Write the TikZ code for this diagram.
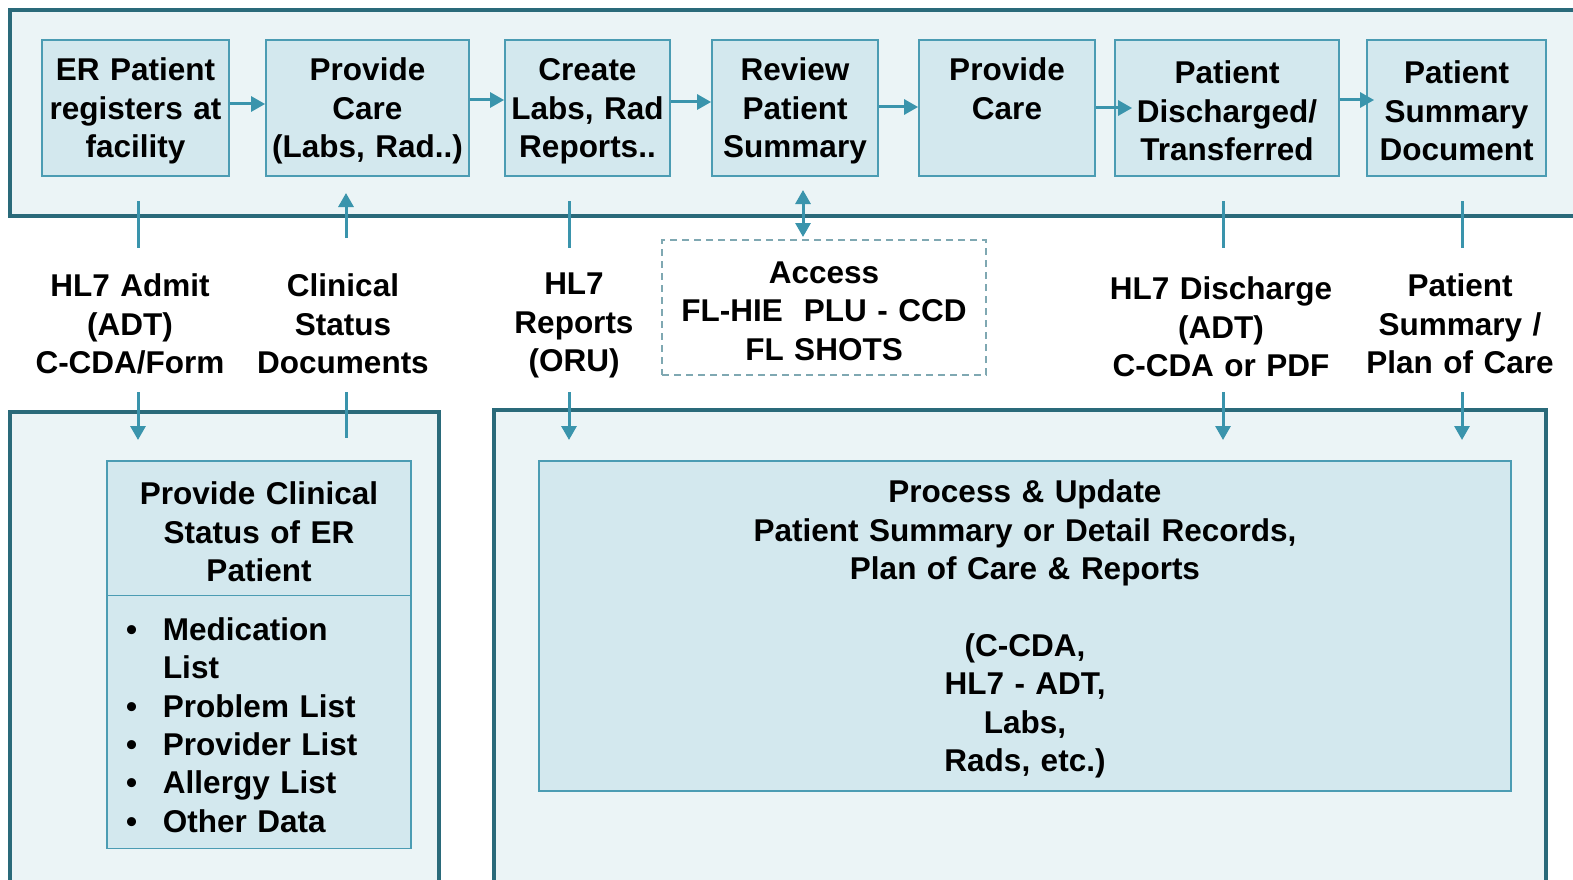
\documentclass[tikz,border=0pt]{standalone}
\usepackage{fontspec}
\setmainfont{Liberation Sans}
\usetikzlibrary{arrows.meta}
\definecolor{frame}{HTML}{2A6A7A}
\definecolor{pale}{HTML}{EBF4F6}
\definecolor{cell}{HTML}{D3E8EE}
\definecolor{cellline}{HTML}{4B9CB3}
\definecolor{pipe}{HTML}{3A94AC}
\definecolor{dashline}{HTML}{7FA8B2}
\newcommand\bul{\makebox[37pt][l]{\textbullet}}

\begin{document}
\begin{tikzpicture}
[
x=1pt, y=-1pt,
txt/.style={font=\fontsize{31.5}{38.4}\selectfont\bfseries, align=center, text width=240pt, inner sep=0pt, execute at begin node={\rule{0pt}{28.7pt}}},
lane/.style={draw=frame, line width=4.5pt, fill=pale},
stage/.style 2 args={txt, draw=cellline, line width=1.8pt, fill=cell, text width=#1pt, minimum width=#1pt, minimum height=#2pt},
flow/.style={draw=pipe, line width=3pt, -{Triangle[length=14pt,width=15pt]}},
both/.style={draw=pipe, line width=3pt, {Triangle[length=14pt,width=15pt]}-{Triangle[length=14pt,width=15pt]}},
link/.style={draw=pipe, line width=3pt},
]
\useasboundingbox (0,0) rectangle (1573,880);
\clip (0,0) rectangle (1573,880);

%Draw the lanes
\path[lane] (10,10) rectangle (1600,216);
\path[lane] (10,412) rectangle (439,900);
\path[lane] (494,410) rectangle (1546,900);

%Place the nodes
\node[stage={187}{136}] (er) at (135.5,108) {ER Patient\\registers at\\facility};
\node[stage={203}{136}] (care1) at (367.5,108) {Provide\\Care\\(Labs, Rad..)};
\node[stage={165}{136}] (labs) at (587.5,108) {Create\\Labs, Rad\\Reports..};
\node[stage={166}{136}] (review) at (795,108) {Review\\Patient\\Summary};
\node[stage={176}{136}] (care2) at (1007,108) {Provide\\Care\\\rule[-6pt]{0pt}{0pt}};
\node[stage={224}{136}] (disch) at (1227,108) {Patient\\Discharged/\\Transferred};
\node[stage={179}{136}] (summary) at (1456.5,108) {Patient\\Summary\\Document};

\node[txt] (admit) at (130,321) {HL7 Admit\\(ADT)\\C-CDA/Form};
\node[txt] (csd) at (343,321) {Clinical\\Status\\Documents};
\node[txt] (oru) at (574,322) {HL7\\Reports\\(ORU)};
\node[txt, text width=320pt, draw=dashline, line width=1.8pt, dash pattern=on 7pt off 5pt, minimum width=324pt, minimum height=135pt] (access) at (824,307.5) {Access\\FL-HIE\ \ PLU - CCD\\FL SHOTS};
\node[txt] (dischlbl) at (1221,324) {HL7 Discharge\\(ADT)\\C-CDA or PDF};
\node[txt] (psum) at (1460,321) {Patient\\Summary /\\Plan of Care};

\node[stage={304}{136}] (clin) at (259,529) {Provide Clinical\\Status of ER\\Patient};
\node[stage={304}{253}, align=left, text width=266pt] (clinlist) at (259,722) {\bul Medication\\\hspace*{37pt}List\\\bul Problem List\\\bul Provider List\\\bul Allergy List\\\bul Other Data};
\node[stage={972}{330}] (proc) at (1025,626) {Process \& Update\\Patient Summary or Detail Records,\\Plan of Care \& Reports\\~\\(C-CDA,\\HL7 - ADT,\\Labs,\\Rads, etc.)};

%Place the link ends
\foreach \px/\pn in {138/admit,569/oru,1223/dischlbl,1462/psum}{
  \coordinate (\pn-a) at (\px,201);
  \coordinate (\pn-b) at (\px,248);
  \coordinate (\pn-c) at (\px,392);
  \coordinate (\pn-d) at (\px,440);
}
\coordinate (csd-a) at (346,193);
\coordinate (csd-b) at (346,238);
\coordinate (csd-c) at (346,392);
\coordinate (csd-d) at (346,438);
\coordinate (access-a) at (803,190);
\coordinate (access-b) at (803,237);

%Draw the connections
\draw[flow] ([yshift=4pt]er.east) -- ([yshift=4pt]care1.west);
\draw[flow] ([yshift=8pt]care1.east) -- ([yshift=8pt]labs.west);
\draw[flow] ([yshift=6pt]labs.east) -- ([yshift=6pt]review.west);
\draw[flow] ([yshift=1pt]review.east) -- ([yshift=1pt]care2.west);
\draw[flow, shorten >=-18pt] (care2.east) -- (disch.west);
\draw[flow, shorten >=-8pt] ([yshift=8pt]disch.east) -- ([yshift=8pt]summary.west);

\draw[link] (admit-a) -- (admit-b);
\draw[flow] (admit-c) -- (admit-d);
\draw[flow] (csd-b) -- (csd-a);
\draw[link] (csd-c) -- (csd-d);
\draw[link] (oru-a) -- (oru-b);
\draw[flow] (oru-c) -- (oru-d);
\draw[both] (access-a) -- (access-b);
\draw[link] (dischlbl-a) -- (dischlbl-b);
\draw[flow] (dischlbl-c) -- (dischlbl-d);
\draw[link] (psum-a) -- (psum-b);
\draw[flow] (psum-c) -- (psum-d);
\end{tikzpicture}
\end{document}
